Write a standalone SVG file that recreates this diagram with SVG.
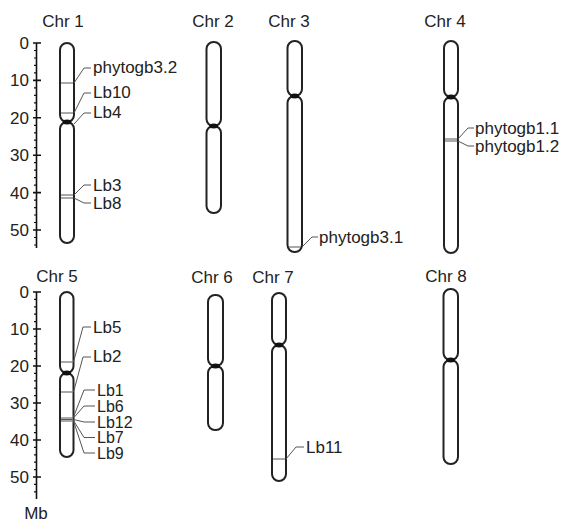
<svg xmlns="http://www.w3.org/2000/svg" width="571" height="525" viewBox="0 0 571 525">
<style>
text{font-family:"Liberation Sans",Arial,sans-serif;font-size:17px;fill:#222}
.t{text-anchor:middle}
.n{text-anchor:end}
.s{font-size:16px}
.arm{fill:#fff;stroke:#222;stroke-width:2}
.cen{fill:#111}
.mk{stroke:#555;stroke-width:1}
.cn{fill:none;stroke:#555;stroke-width:1}
.ax{fill:none;stroke:#111;stroke-width:1.6}
.mt{fill:none;stroke:#111;stroke-width:1.2}
</style>
<rect width="571" height="525" fill="#fff"/>
<g id="axis1">
<path class="ax" d="M36.5 43V248M33 43H41M33 80.4H41M33 117.8H41M33 155.2H41M33 192.6H41M33 230H41"/>
<path class="mt" d="M34 50.5H37M34 58H37M34 65.4H37M34 72.9H37M34 87.9H37M34 95.4H37M34 102.8H37M34 110.3H37M34 125.3H37M34 132.8H37M34 140.2H37M34 147.7H37M34 162.7H37M34 170.2H37M34 177.6H37M34 185.1H37M34 200.1H37M34 207.6H37M34 215H37M34 222.5H37M34 237.5H37M34 245H37"/>
<text class="n" x="29" y="49">0</text>
<text class="n" x="29" y="86.4">10</text>
<text class="n" x="29" y="123.8">20</text>
<text class="n" x="29" y="161.2">30</text>
<text class="n" x="29" y="198.6">40</text>
<text class="n" x="29" y="236">50</text>
</g>
<g id="axis2">
<path class="ax" d="M36.5 292V499M33 292H41M33 329H41M33 366H41M33 403H41M33 440H41M33 477H41"/>
<path class="mt" d="M34 299.4H37M34 306.8H37M34 314.2H37M34 321.6H37M34 336.4H37M34 343.8H37M34 351.2H37M34 358.6H37M34 373.4H37M34 380.8H37M34 388.2H37M34 395.6H37M34 410.4H37M34 417.8H37M34 425.2H37M34 432.6H37M34 447.4H37M34 454.8H37M34 462.2H37M34 469.6H37M34 484.4H37M34 491.8H37"/>
<text class="n" x="29" y="298">0</text>
<text class="n" x="29" y="335">10</text>
<text class="n" x="29" y="372">20</text>
<text class="n" x="29" y="409">30</text>
<text class="n" x="29" y="446">40</text>
<text class="n" x="29" y="483">50</text>
<text class="t" x="36" y="519">Mb</text>
</g>
<g id="chr1">
<text class="t" x="63" y="27">Chr 1</text>
<rect class="arm" x="60" y="43" width="14" height="79" rx="7"/>
<rect class="arm" x="60" y="122" width="14" height="121" rx="7"/>
<ellipse class="cen" cx="67" cy="122" rx="4.5" ry="2.5"/>
<path class="mk" d="M61 83H73M61 113H73M61 195H73M61 198H73"/>
</g>
<g id="chr2">
<text class="t" x="213" y="27">Chr 2</text>
<rect class="arm" x="206.5" y="42" width="14.5" height="84" rx="7"/>
<rect class="arm" x="206.5" y="126" width="14.5" height="87" rx="7"/>
<ellipse class="cen" cx="213.7" cy="126" rx="4.5" ry="2.5"/>
</g>
<g id="chr3">
<text class="t" x="289" y="27">Chr 3</text>
<rect class="arm" x="287.5" y="41" width="14.5" height="55" rx="7"/>
<rect class="arm" x="287.5" y="96" width="14.5" height="156" rx="7"/>
<ellipse class="cen" cx="294.7" cy="96" rx="4.5" ry="2.5"/>
<path class="mk" d="M288.5 247H301"/>
</g>
<g id="chr4">
<text class="t" x="445" y="27">Chr 4</text>
<rect class="arm" x="444" y="41" width="14" height="56" rx="7"/>
<rect class="arm" x="444" y="97" width="14" height="156" rx="7"/>
<ellipse class="cen" cx="451" cy="97" rx="4.5" ry="2.5"/>
<path class="mk" d="M445 139H457M445 141H457"/>
</g>
<g id="chr5">
<text class="t" x="57" y="282">Chr 5</text>
<rect class="arm" x="60" y="292" width="13.5" height="81" rx="6.75"/>
<rect class="arm" x="60" y="373" width="13.5" height="84" rx="6.75"/>
<ellipse class="cen" cx="66.7" cy="373" rx="4.5" ry="2.5"/>
<path class="mk" d="M61 362H72.5M61 392H72.5M61 418H72.5M61 419.5H72.5M61 421H72.5"/>
</g>
<g id="chr6">
<text class="t" x="212" y="283">Chr 6</text>
<rect class="arm" x="208" y="295" width="15" height="71" rx="7"/>
<rect class="arm" x="208" y="366" width="15" height="64" rx="7"/>
<ellipse class="cen" cx="215.5" cy="366" rx="4.5" ry="2.5"/>
</g>
<g id="chr7">
<text class="t" x="273" y="283">Chr 7</text>
<rect class="arm" x="272" y="293" width="14" height="52" rx="7"/>
<rect class="arm" x="272" y="345" width="14" height="136" rx="7"/>
<ellipse class="cen" cx="279" cy="345" rx="4.5" ry="2.5"/>
<path class="mk" d="M273 459H285"/>
</g>
<g id="chr8">
<text class="t" x="446" y="282">Chr 8</text>
<rect class="arm" x="443.5" y="289" width="14.5" height="71" rx="7"/>
<rect class="arm" x="443.5" y="360" width="14.5" height="104" rx="7"/>
<ellipse class="cen" cx="450.7" cy="360" rx="4.5" ry="2.5"/>
</g>
<g id="connectors">
<path class="cn" d="M74 83L84 68H91M74 113L84 93H91M74 124L84 113H91M74 195L84 185H91M74 198L84 203H91"/>
<path class="cn" d="M302 247L312 237H318"/>
<path class="cn" d="M458 139L468 128H474M458 141L468 146H474"/>
<path class="cn" d="M73.5 362L83 327H91M73.5 392L83 357H91M73.5 417L84 390H95M73.5 418L84 406H95M73.5 419.5L84 422H95M73.5 420.5L84 437.5H95M73.5 421L84 453H95"/>
<path class="cn" d="M286 459L296 447H304"/>
</g>
<g id="labels">
<text x="93" y="73">phytogb3.2</text>
<text x="93" y="98">Lb10</text>
<text x="93" y="118">Lb4</text>
<text x="93" y="191">Lb3</text>
<text x="93" y="209">Lb8</text>
<text x="319" y="243">phytogb3.1</text>
<text x="475" y="134">phytogb1.1</text>
<text x="475" y="152">phytogb1.2</text>
<text x="93" y="333">Lb5</text>
<text x="93" y="362">Lb2</text>
<text class="s" x="97" y="396">Lb1</text>
<text class="s" x="97" y="411.5">Lb6</text>
<text class="s" x="97" y="427.5">Lb12</text>
<text class="s" x="97" y="443">Lb7</text>
<text class="s" x="97" y="458.5">Lb9</text>
<text x="306" y="453">Lb11</text>
</g>
</svg>
